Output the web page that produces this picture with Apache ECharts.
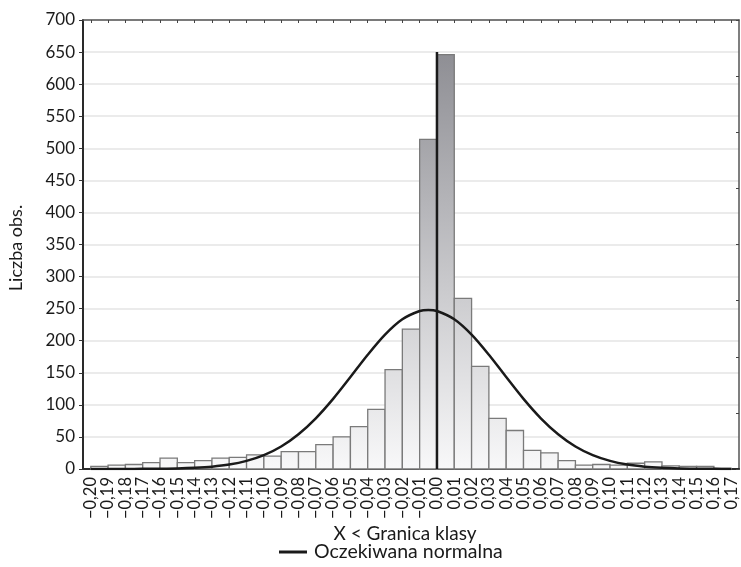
<!DOCTYPE html>
<html>
<head>
<meta charset="utf-8">
<title>Histogram</title>
<script src="https://cdn.jsdelivr.net/npm/echarts@6/dist/echarts.min.js"></script>
<style>
  html, body { margin: 0; padding: 0; background: #fff; }
  #wykres { width: 741px; height: 567px; }
</style>
</head>
<body>
<div id="wykres"></div>
<script>
// granice klas (X < granica)
const granice = [-0.20, -0.19, -0.18, -0.17, -0.16, -0.15, -0.14, -0.13, -0.12, -0.11,
    -0.10, -0.09, -0.08, -0.07, -0.06, -0.05, -0.04, -0.03, -0.02, -0.01,
    0.00, 0.01, 0.02, 0.03, 0.04, 0.05, 0.06, 0.07, 0.08, 0.09,
    0.10, 0.11, 0.12, 0.13, 0.14, 0.15, 0.16, 0.17];

const etykiety = ["−0,20", "−0,19", "−0,18", "−0,17", "−0,16", "−0,15", "−0,14", "−0,13", "−0,12", "−0,11",
    "−0,10", "−0,09", "−0,08", "−0,07", "−0,06", "−0,05", "−0,04", "−0,03", "−0,02", "−0,01",
    "0,00", "0,01", "0,02", "0,03", "0,04", "0,05", "0,06", "0,07", "0,08", "0,09",
    "0,10", "0,11", "0,12", "0,13", "0,14", "0,15", "0,16", "0,17"];

// liczba obserwacji w każdej klasie (między kolejnymi granicami)
const liczebnosci = [4, 6, 7, 10, 17, 10, 13, 17, 18, 22,
    20, 27, 27, 38, 50, 66, 93, 155, 218, 514,
    646, 266, 160, 79, 60, 29, 25, 13, 6, 7,
    6, 9, 11, 5, 4, 4, 1];

// oczekiwana normalna
const normalnaX = [-0.20, -0.19, -0.18, -0.17, -0.16, -0.15, -0.14, -0.13, -0.12, -0.11,
    -0.10, -0.09, -0.08, -0.07, -0.06, -0.05, -0.04, -0.03, -0.02, -0.01, -0.005,
    0.00, 0.01, 0.02, 0.03, 0.04, 0.05, 0.06, 0.07, 0.08, 0.09,
    0.10, 0.11, 0.12, 0.13, 0.14, 0.15, 0.16, 0.17];
const normalnaY = [0, 0, 0.1, 0.2, 0.4, 0.8, 1.8, 3.6, 6.9, 12.6,
    21.6, 35.1, 54.2, 79.1, 109.4, 143.4, 178.1, 209.5, 233.4, 246.3, 248,
    246.3, 233.4, 209.5, 178.1, 143.4, 109.4, 79.1, 54.2, 35.1, 21.6,
    12.6, 6.9, 3.6, 1.8, 0.8, 0.4, 0.2, 0.1];

// pionowa linia w zerze
const liniaX = [0, 0];
const liniaY = [0, 650];

const czcionka = "Lato";

const wykres = echarts.init(document.getElementById("wykres"));

const slupki = liczebnosci.map(function(n, i) {
    return [granice[i], granice[i + 1], n];
});
const krzywa = normalnaY.map(function(v, i) {
    return [normalnaX[i], v];
});
const pion = liniaX.map(function(x, i) {
    return [x, liniaY[i]];
});

function etykieta(v) {
    const liczba = Number(v);
    for (let i = 0; i < granice.length; i++) {
        if (Math.abs(granice[i] - liczba) < 1e-9) return etykiety[i];
    }
    return "";
}

wykres.setOption({
    animation: false,
    textStyle: { fontFamily: czcionka },
    grid: { left: 83, right: 2, top: 20, bottom: 98 },
    title: [{
        text: "X < Granica klasy",
        left: 400,
        top: 519,
        textAlign: "center",
        textStyle: { fontFamily: czcionka, fontSize: 19, fontWeight: "normal", color: "#1a1a1a" }
    }],
    graphic: [{
        type: "text",
        x: 16,
        y: 248,
        rotation: Math.PI / 2,
        style: {
            text: "Liczba obs.",
            fontFamily: czcionka,
            fontSize: 18,
            fill: "#1a1a1a",
            textAlign: "center",
            textVerticalAlign: "middle"
        }
    }],
    legend: {
        data: ["Oczekiwana normalna"],
        left: 274,
        top: 537,
        icon: "rect",
        itemWidth: 28,
        itemHeight: 3,
        itemGap: 10,
        textStyle: { fontFamily: czcionka, fontSize: 19.5, color: "#1a1a1a", padding: [0, 0, 0, 2] }
    },
    xAxis: [{
        type: "value",
        min: -0.2045,
        max: 0.1745,
        position: "bottom",
        axisLine: { show: true, onZero: false, lineStyle: { color: "#2a2a2a", width: 2 } },
        axisTick: { show: false },
        splitLine: { show: false },
        axisLabel: {
            customValues: granice,
            rotate: 90,
            margin: 8,
            fontSize: 16.5,
            color: "#1a1a1a",
            formatter: etykieta
        }
    }, {
        type: "value",
        min: -0.2045,
        max: 0.1745,
        position: "top",
        axisLine: { show: true, onZero: false, lineStyle: { color: "#555", width: 1.5 } },
        axisTick: { show: true, inside: true, length: 3, customValues: granice, lineStyle: { color: "#444" } },
        axisLabel: { show: false, customValues: granice },
        splitLine: { show: false }
    }],
    yAxis: [{
        type: "value",
        min: 0,
        max: 700,
        interval: 50,
        position: "left",
        axisLine: { show: true, onZero: false, lineStyle: { color: "#2a2a2a", width: 2 } },
        axisTick: { show: true, length: 4, lineStyle: { color: "#333" } },
        axisLabel: { fontSize: 17, color: "#1a1a1a", margin: 8 },
        splitLine: { show: true, lineStyle: { color: "#e4e4e4", width: 1.5 } }
    }, {
        type: "value",
        min: 0,
        max: 8,
        interval: 1,
        position: "right",
        axisLine: { show: true, onZero: false, lineStyle: { color: "#555", width: 1.5 } },
        axisTick: { show: true, inside: true, length: 3, lineStyle: { color: "#444" } },
        axisLabel: { show: false },
        splitLine: { show: false }
    }],
    series: [{
        name: "Liczba obs.",
        type: "custom",
        xAxisIndex: 0,
        yAxisIndex: 0,
        encode: { x: [0, 1], y: 2 },
        data: slupki,
        renderItem: function(params, api) {
            const lewyGora = api.coord([api.value(0), api.value(2)]);
            const prawyDol = api.coord([api.value(1), 0]);
            const gora = api.coord([0, 700])[1];
            const dol = api.coord([0, 0])[1];
            return {
                type: "rect",
                shape: {
                    x: lewyGora[0],
                    y: lewyGora[1],
                    width: prawyDol[0] - lewyGora[0],
                    height: prawyDol[1] - lewyGora[1]
                },
                style: {
                    fill: {
                        type: "linear",
                        x: 0, y: gora, x2: 0, y2: dol,
                        global: true,
                        colorStops: [
                            { offset: 0, color: "#86868c" },
                            { offset: 1, color: "#f8f8f9" }
                        ]
                    },
                    stroke: "#7a7a7a",
                    lineWidth: 1.3
                }
            };
        }
    }, {
        name: "Oczekiwana normalna",
        type: "line",
        xAxisIndex: 0,
        yAxisIndex: 0,
        data: krzywa,
        smooth: 0.3,
        showSymbol: false,
        lineStyle: { color: "#1a1a1a", width: 2.5 },
        itemStyle: { color: "#1a1a1a" },
        z: 5
    }, {
        name: "zero",
        type: "line",
        xAxisIndex: 0,
        yAxisIndex: 0,
        data: pion,
        showSymbol: false,
        lineStyle: { color: "#1a1a1a", width: 2.5 },
        z: 6
    }]
});
</script>
</body>
</html>
